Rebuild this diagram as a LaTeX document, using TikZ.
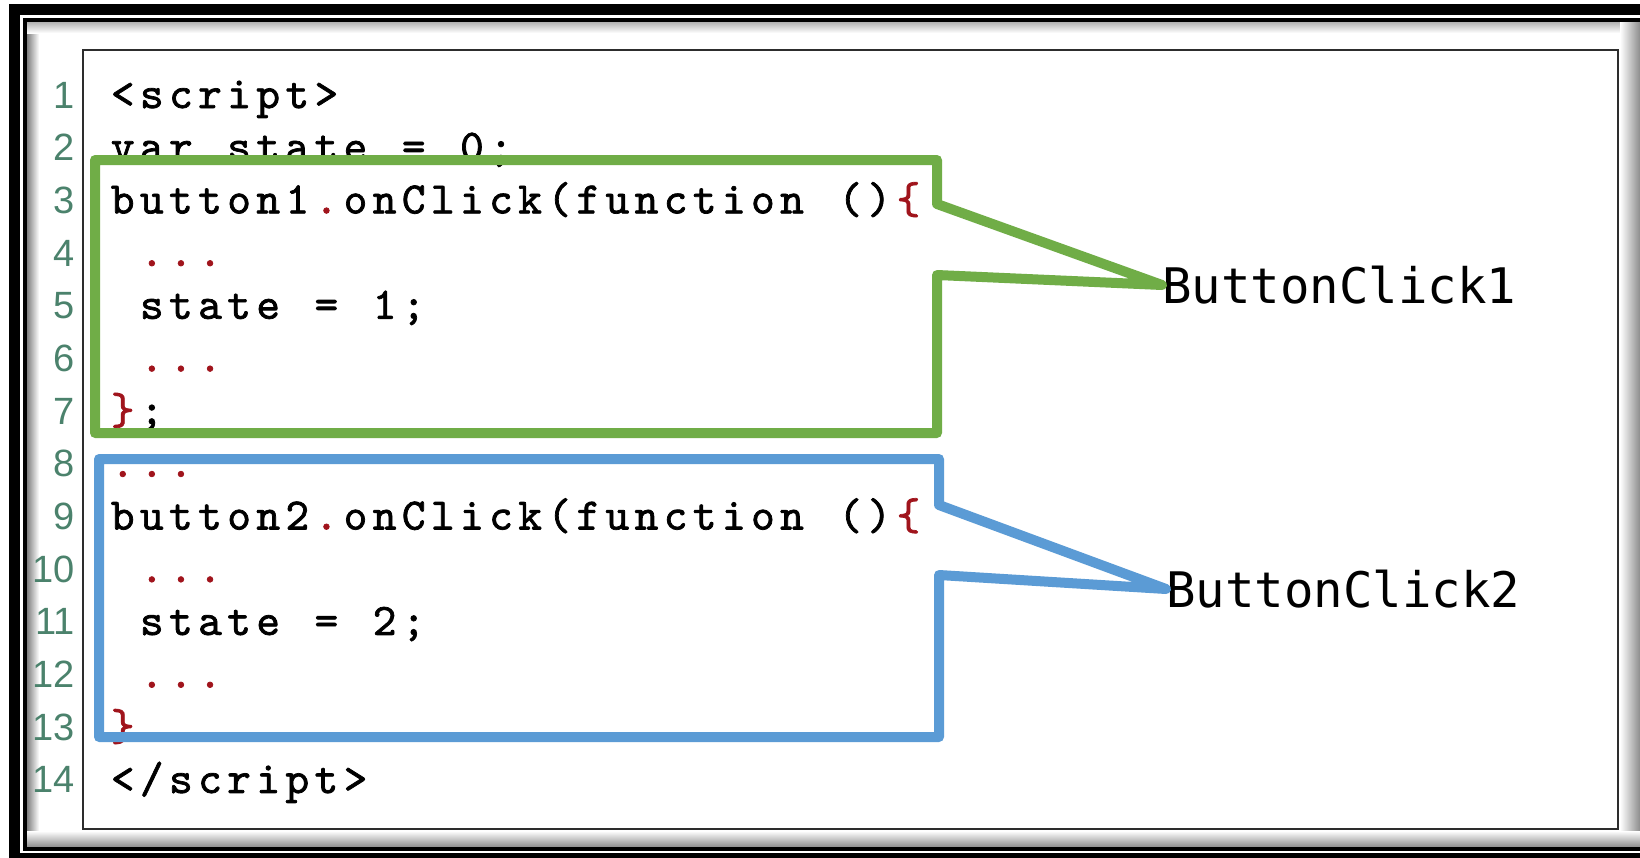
\documentclass[tikz,border=0pt]{standalone}
\usepackage{fontspec}
\newfontfamily\lnfont{Liberation Sans}
\newfontfamily\lblfont{DejaVu Sans Mono}
\newfontfamily\codefont{lmmono10-regular}[Extension=.otf,FakeBold=1.6]
\definecolor{cgreen}{RGB}{112,173,71}
\definecolor{cblue}{RGB}{91,155,213}
\definecolor{cred}{RGB}{160,20,28}
\definecolor{cnum}{RGB}{75,130,108}
\definecolor{cbox}{RGB}{45,45,45}
\makeatletter
\newcommand\fixcols[1]{\@tfor\cchar:=#1\do{\makebox[29.1pt][c]{\cchar}}}
\makeatother
\newcommand\rdot{\textcolor{cred}{.}}
\newcommand\rlb{\textcolor{cred}{\{}}
\newcommand\rrb{\textcolor{cred}{\}}}
\begin{document}
\begin{tikzpicture}[x=1pt,y=-1pt,
  lnum/.style={anchor=base east,inner sep=0pt,text=cnum,font=\lnfont\fontsize{38}{38}\selectfont},
  code/.style={anchor=base west,inner sep=0pt,font=\codefont\fontsize{45}{45}\selectfont},
  callout/.style={line width=10pt,line join=round,line cap=round},
  lbl/.style={anchor=west,inner sep=0pt,font=\lblfont\fontsize{49}{49}\selectfont}]
\useasboundingbox (0,0) rectangle (1640,857);
\fill[white] (0,0) rectangle (1640,857);
% inner soft shadow of the picture frame
\shade[left color=black!50,right color=white] (27,22) rectangle (39,847);
\shade[top color=black!30,bottom color=white] (27,22) rectangle (1640,33);
\shade[left color=white,right color=black!45] (1620,22) rectangle (1640,847);
\shade[top color=white,bottom color=black!45] (27,831) rectangle (1640,847);
% code box
\draw[cbox,line width=2.5pt] (83,50) rectangle (1618,829);
% line numbers
\foreach \n in {1,...,14}
  \node[lnum] (num\n) at (75,{108+(\n-1)*52.69}) {\n};
% code lines
\node[code] (c1)  at (108,108)    {\fixcols{<script>}};
\node[code] (c2)  at (108,160.69) {\fixcols{var\ state\ =\ 0;}};
\node[code] (c3)  at (108,213.38) {\fixcols{button1\rdot onClick(function\ ()\rlb}};
\node[code] (c4)  at (108,266.07) {\fixcols{\ \rdot\rdot\rdot}};
\node[code] (c5)  at (108,318.76) {\fixcols{\ state\ =\ 1;}};
\node[code] (c6)  at (108,371.45) {\fixcols{\ \rdot\rdot\rdot}};
\node[code] (c7)  at (108,424.14) {\fixcols{\rrb;}};
\node[code] (c8)  at (108,476.83) {\fixcols{\rdot\rdot\rdot}};
\node[code] (c9)  at (108,529.52) {\fixcols{button2\rdot onClick(function\ ()\rlb}};
\node[code] (c10) at (108,582.21) {\fixcols{\ \rdot\rdot\rdot}};
\node[code] (c11) at (108,634.90) {\fixcols{\ state\ =\ 2;}};
\node[code] (c12) at (108,687.59) {\fixcols{\ \rdot\rdot\rdot}};
\node[code] (c13) at (108,740.28) {\fixcols{\rrb}};
\node[code] (c14) at (108,792.97) {\fixcols{</script>}};
% labels
\node[lbl] (lbl1) at (1162,285) {ButtonClick1};
\node[lbl] (lbl2) at (1166,589) {ButtonClick2};
% callouts
\draw[callout,cgreen] (937,204) -- (937,160) -- (95,160) -- (95,433) -- (937,433)
  -- (937,275) -- (lbl1.west) -- cycle;
\draw[callout,cblue] (939,505) -- (939,459) -- (99,459) -- (99,737) -- (939,737)
  -- (939,575) -- (lbl2.west) -- cycle;
% picture frame
\draw[line width=4pt] (25,20) rectangle (1660,849);
\draw[line width=11pt] (14.5,9.5) rectangle (1670,858.5);
\end{tikzpicture}
\end{document}
